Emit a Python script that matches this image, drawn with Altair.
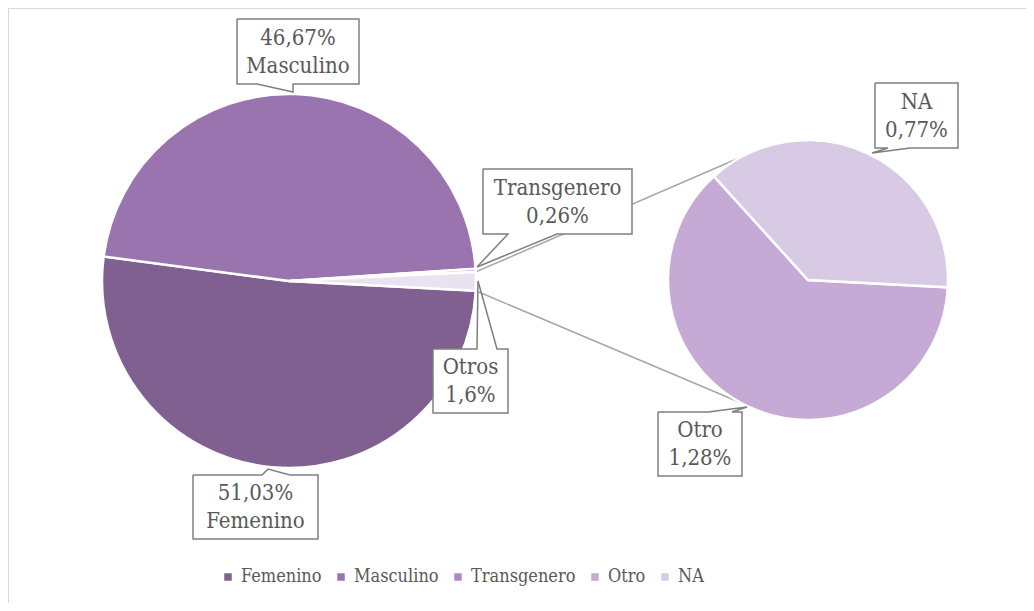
import math
import altair as alt
import pandas as pd

# ---------------- data ----------------
main_cats = ["Femenino", "Masculino", "Transgenero", "Otros"]
main_vals = [51.03, 46.67, 0.26, 1.6]
sub_cats = ["Otro", "NA"]
sub_vals = [1.28, 0.77]
legend_cats = ["Femenino", "Masculino", "Transgenero", "Otro", "NA"]

color_domain = ["Femenino", "Masculino", "Transgenero", "Otro", "NA", "Otros"]
color_range = ["#806091", "#9A74AE", "#AF88C6", "#C4AAD5", "#D8C9E4", "#E9E2F0"]

label_texts = {
    "Masculino": ["46,67%", "Masculino"],
    "Transgenero": ["Transgenero", "0,26%"],
    "Otros": ["Otros", "1,6%"],
    "Femenino": ["51,03%", "Femenino"],
    "NA": ["NA", "0,77%"],
    "Otro": ["Otro", "1,28%"],
}

# ---------------- layout (page pixel coords) ----------------
M = 8  # page margin
W, H = 1018, 595
FONT = "DejaVu Serif Condensed"
TXT = "#595959"

main_c = (289, 281); main_r = 187
sub_c = (808, 280); sub_r = 140
start = math.radians(93)

# callouts: box (x0, y0, x1, y1), pointer side, base x0, base x1, tip
callouts = {
    "Masculino": ((237, 19, 359, 84), "bottom", 257, 293, (293, 92)),
    "Transgenero": ((483, 169, 632, 234), "bottom", 508, 557, (477, 267)),
    "Otros": ((433, 349, 508, 413), "top", 477, 497, (478, 281)),
    "Femenino": ((193, 475, 318, 539), "top", 262, 290, (268, 469)),
    "NA": ((875, 83, 958, 148), "bottom", 888, 910, (872, 153)),
    "Otro": ((658, 412, 742, 476), "top", 708, 732, (747, 407)),
}

def px(v):
    return v - M

# ---------------- pies ----------------
main_df = pd.DataFrame({"cat": main_cats, "val": main_vals, "idx": range(len(main_cats))})
sub_df = pd.DataFrame({"cat": sub_cats, "val": sub_vals, "idx": range(len(sub_cats))})

color = alt.Color(
    "cat:N",
    scale=alt.Scale(domain=color_domain, range=color_range),
    legend=alt.Legend(
        values=legend_cats, orient="none", direction="horizontal", title=None,
        legendX=px(219), legendY=px(568), symbolType="square", symbolSize=56,
        symbolStrokeWidth=0, labelFont=FONT, labelFontSize=18, labelColor=TXT,
        columnPadding=10, labelOffset=4, padding=0,
    ),
)

main_pie = alt.Chart(main_df).mark_arc(
    radius=main_r, stroke="white", strokeWidth=2.5
).encode(
    theta=alt.Theta("val:Q", stack=True, scale=alt.Scale(range=[start, start + 2 * math.pi])),
    color=color,
    order=alt.Order("idx:Q"),
    x=alt.value(px(main_c[0])),
    y=alt.value(px(main_c[1])),
)

sub_pie = alt.Chart(sub_df).mark_arc(
    radius=sub_r, stroke="white", strokeWidth=2.5
).encode(
    theta=alt.Theta("val:Q", stack=True, scale=alt.Scale(range=[start, start + 2 * math.pi])),
    color=alt.Color("cat:N", scale=alt.Scale(domain=color_domain, range=color_range), legend=None),
    order=alt.Order("idx:Q"),
    x=alt.value(px(sub_c[0])),
    y=alt.value(px(sub_c[1])),
)

# ---------------- connector lines (from Otros slice edges to secondary pie) ----------------
tot = sum(main_vals)
cum_before = sum(main_vals[:3]) / tot * 2 * math.pi
cum_after = sum(main_vals[:4]) / tot * 2 * math.pi
a_top = start + cum_before
a_bot = start + cum_after
def on_circle(c, r, a):
    return (c[0] + r * math.sin(a), c[1] - r * math.cos(a))
p1 = on_circle(main_c, main_r, a_top)
p2 = on_circle(main_c, main_r, a_bot)
q1 = on_circle(sub_c, sub_r, math.radians(-29))
q2 = on_circle(sub_c, sub_r, math.radians(209))
conn_rows = []
for gid, (a, b) in enumerate([(p1, q1), (p2, q2)]):
    conn_rows.append({"g": gid, "o": 0, "x": px(a[0]), "y": px(a[1])})
    conn_rows.append({"g": gid, "o": 1, "x": px(b[0]), "y": px(b[1])})
conn = alt.Chart(pd.DataFrame(conn_rows)).mark_line(color="#A6A6A6", strokeWidth=1.5).encode(
    x=alt.X("x:Q", scale=None), y=alt.Y("y:Q", scale=None), detail="g:N", order="o:Q"
)

# ---------------- callouts ----------------
box_rows, poly_rows, text_rows = [], [], []
for name, (box, side, b0, b1, tip) in callouts.items():
    x0, y0, x1, y1 = box
    box_rows.append({"x": px(x0), "x2": px(x1), "y": px(y0), "y2": px(y1)})
    if side == "bottom":
        pts = [(x0, y0), (x1, y0), (x1, y1), (b1, y1), tip, (b0, y1), (x0, y1), (x0, y0)]
    else:
        pts = [(x0, y0), (b0, y0), tip, (b1, y0), (x1, y0), (x1, y1), (x0, y1), (x0, y0)]
    for i, (x, y) in enumerate(pts):
        poly_rows.append({"g": name, "o": i, "x": px(x), "y": px(y)})
    cx = (x0 + x1) / 2
    cy = (y0 + y1) / 2
    lines = label_texts[name]
    text_rows.append({"x": px(cx), "y": px(cy - 14), "t": lines[0]})
    text_rows.append({"x": px(cx), "y": px(cy + 14), "t": lines[1]})

boxes = alt.Chart(pd.DataFrame(box_rows)).mark_rect(fill="white").encode(
    x=alt.X("x:Q", scale=None), x2="x2:Q", y=alt.Y("y:Q", scale=None), y2="y2:Q"
)
outlines = alt.Chart(pd.DataFrame(poly_rows)).mark_line(
    color="#7F7F7F", strokeWidth=1.5, strokeJoin="miter"
).encode(x=alt.X("x:Q", scale=None), y=alt.Y("y:Q", scale=None), detail="g:N", order="o:Q")
texts = alt.Chart(pd.DataFrame(text_rows)).mark_text(
    font=FONT, fontSize=22, color=TXT, baseline="middle", align="center"
).encode(x=alt.X("x:Q", scale=None), y=alt.Y("y:Q", scale=None), text="t:N")

# ---------------- chart border ----------------
border = alt.Chart(pd.DataFrame({"a": [0]})).mark_rect(
    fill=None, stroke="#D9D9D9", strokeWidth=2
).encode(x=alt.value(0), x2=alt.value(1040), y=alt.value(0), y2=alt.value(620))

chart = alt.layer(
    border, conn, main_pie, sub_pie, boxes, outlines, texts
).resolve_scale(theta="independent").properties(
    width=W, height=H, padding=0, autosize=alt.AutoSizeParams(type="none")
).configure_view(stroke=None)

chart.save("out.html", embed_options={"renderer": "svg", "actions": False})
